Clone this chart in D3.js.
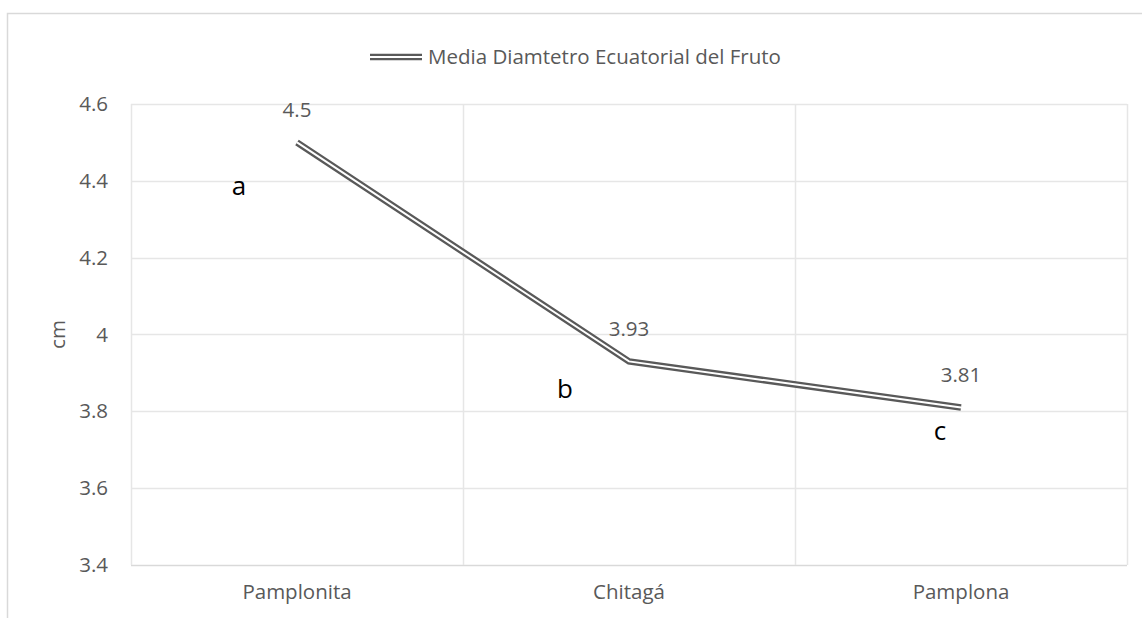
<!DOCTYPE html>
<html>
<head>
<meta charset="utf-8">
<script src="https://cdn.jsdelivr.net/npm/d3@7"></script>
<style>
  html, body { margin: 0; padding: 0; background: #fff; }
  svg { display: block; font-family: 'Open Sans', sans-serif; }
</style>
</head>
<body>
<svg id="chart" width="1142" height="618"></svg>
<script>
// data
const categories = ['Pamplonita', 'Chitagá', 'Pamplona'];
const values = [4.5, 3.93, 3.81];
const valueLabels = ['4.5', '3.93', '3.81'];
const groupLetters = ['a', 'b', 'c'];
const yTicks = [3.4, 3.6, 3.8, 4, 4.2, 4.4, 4.6];
const yTickLabels = ['3.4', '3.6', '3.8', '4', '4.2', '4.4', '4.6'];
const seriesName = 'Media Diamtetro Ecuatorial del Fruto';
const yTitle = 'cm';

// where the hand-placed letters sit relative to their point (px)
const letterOffsets = [[-58, 53], [-64, 37], [-21, 33]];

const svg = d3.select('#chart');
const margin = { top: 104, right: 15, bottom: 53, left: 131 };
const width = 1142 - margin.left - margin.right;
const height = 618 - margin.top - margin.bottom;

const textColor = '#595959';
const gridColor = '#e6e6e6';
const fontSize = 20.5;

// outer chart border (runs off the picture on right / bottom)
svg.append('rect')
  .attr('x', 7.5).attr('y', 13.5)
  .attr('width', 1200).attr('height', 700)
  .attr('fill', '#fff')
  .attr('stroke', '#d9d9d9')
  .attr('stroke-width', 1.5);

const g = svg.append('g').attr('transform', `translate(${margin.left},${margin.top})`);

const x = d3.scaleBand().domain(categories).range([0, width]);
const y = d3.scaleLinear().domain([3.4, 4.6]).range([height, 0]);

// horizontal gridlines
g.append('g')
  .selectAll('line')
  .data(yTicks)
  .join('line')
    .attr('x1', 0).attr('x2', width)
    .attr('y1', d => Math.round(y(d)) + 0.5)
    .attr('y2', d => Math.round(y(d)) + 0.5)
    .attr('stroke', (d, i) => i === 0 ? '#d9d9d9' : gridColor)
    .attr('stroke-width', 1.5);

// vertical gridlines at category boundaries
const bounds = categories.map(c => x(c)).concat([width]);
g.append('g')
  .selectAll('line')
  .data(bounds)
  .join('line')
    .attr('x1', d => Math.round(d) + 0.5).attr('x2', d => Math.round(d) + 0.5)
    .attr('y1', 0).attr('y2', height)
    .attr('stroke', gridColor)
    .attr('stroke-width', 1.5);

// y axis labels
g.append('g')
  .call(d3.axisLeft(y).tickValues(yTicks).tickFormat((d, i) => yTickLabels[i]).tickSize(0).tickPadding(23))
  .call(a => a.select('.domain').remove())
  .selectAll('text')
    .attr('font-family', "'Open Sans', sans-serif")
    .attr('font-size', fontSize)
    .attr('fill', textColor);

// x axis labels
g.append('g')
  .attr('transform', `translate(0,${height})`)
  .call(d3.axisBottom(x).tickSize(0).tickPadding(19))
  .call(a => a.select('.domain').remove())
  .selectAll('text')
    .attr('font-family', "'Open Sans', sans-serif")
    .attr('font-size', fontSize)
    .attr('fill', textColor);

// y title
svg.append('text')
  .attr('transform', `translate(65,${margin.top + height / 2}) rotate(-90)`)
  .attr('text-anchor', 'middle')
  .attr('font-size', fontSize)
  .attr('fill', textColor)
  .text(yTitle);

// double line
const pts = categories.map((c, i) => ({ cat: c, v: values[i] }));
const line = d3.line()
  .x(d => x(d.cat) + x.bandwidth() / 2)
  .y(d => y(d.v));

g.append('path')
  .datum(pts)
  .attr('fill', 'none')
  .attr('stroke', textColor)
  .attr('stroke-width', 6.5)
  .attr('d', line);

g.append('path')
  .datum(pts)
  .attr('fill', 'none')
  .attr('stroke', '#fff')
  .attr('stroke-width', 2)
  .attr('d', line);

// value labels
g.append('g')
  .selectAll('text')
  .data(pts)
  .join('text')
    .attr('x', d => x(d.cat) + x.bandwidth() / 2)
    .attr('y', d => y(d.v) - 25)
    .attr('text-anchor', 'middle')
    .attr('font-size', fontSize)
    .attr('fill', textColor)
    .text((d, i) => valueLabels[i]);

// group letters
g.append('g')
  .selectAll('text')
  .data(pts)
  .join('text')
    .attr('x', (d, i) => x(d.cat) + x.bandwidth() / 2 + letterOffsets[i][0])
    .attr('y', (d, i) => y(d.v) + letterOffsets[i][1])
    .attr('text-anchor', 'middle')
    .attr('font-size', 26)
    .attr('fill', '#000')
    .text((d, i) => groupLetters[i]);

// legend
const legend = svg.append('g').attr('transform', 'translate(370,57)');
legend.append('line')
  .attr('x1', 0).attr('x2', 52).attr('y1', 0).attr('y2', 0)
  .attr('stroke', textColor).attr('stroke-width', 6.5);
legend.append('line')
  .attr('x1', 0).attr('x2', 52).attr('y1', 0).attr('y2', 0)
  .attr('stroke', '#fff').attr('stroke-width', 2);
legend.append('text')
  .attr('x', 58).attr('y', 0)
  .attr('dy', '0.35em')
  .attr('font-size', fontSize)
  .attr('fill', textColor)
  .text(seriesName);
</script>
</body>
</html>
